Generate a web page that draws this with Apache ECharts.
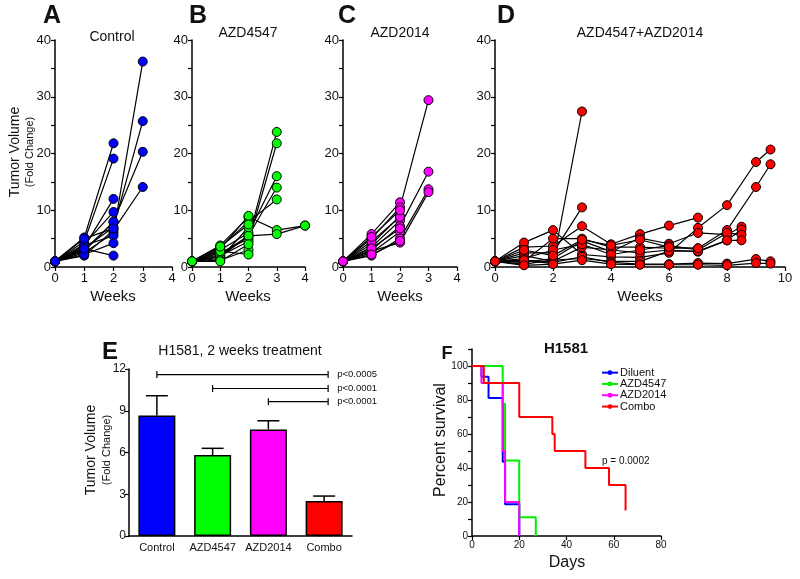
<!DOCTYPE html>
<html><head><meta charset="utf-8">
<script src="https://cdn.jsdelivr.net/npm/echarts@6/dist/echarts.min.js"></script>
<style>html,body{margin:0;padding:0;background:#fff}#c{width:800px;height:579px}</style>
</head><body><div id="c"></div>
<script>
// ---------- data ----------
const weeksABC = [0, 1, 2, 3, 4];
const weeksD = [0, 1, 2, 3, 4, 5, 6, 7, 8, 8.5, 9, 9.5];

const controlMice = [
  [1, 5.2, 21.8], [1, 4.5, 19.1], [1, 3.5, 12.0], [1, 4.0, 9.7], [1, 3.0, 7.9],
  [1, 2.5, 6.0, 36.2], [1, 3.3, 7.0, 25.7], [1, 2.8, 8.0, 20.3], [1, 2.0, 6.5, 14.1],
  [1, 3.8, 5.5], [1, 2.2, 4.2], [1, 3.2, 2.0], [1, 5.0, 6.8]
];
const azd4547Mice = [
  [1, 2.5, 5.0, 23.8], [1, 2.0, 4.5, 21.8], [1, 3.0, 6.0, 16.0], [1, 1.8, 5.5, 14.0],
  [1, 3.5, 8.0, 11.9], [1, 3.8, 8.8, 6.5, 7.3], [1, 2.2, 5.5, 5.8, 7.3], [1, 3.2, 9.0],
  [1, 1.5, 7.0], [1, 1.2, 3.0], [1, 2.8, 2.2], [1, 1.0, 4.0], [1, 3.6, 7.5]
];
const azd2014Mice = [
  [1, 5.8, 11.4], [1, 5.0, 10.5, 29.4], [1, 4.0, 9.0], [1, 3.5, 8.2], [1, 3.0, 7.2, 16.8],
  [1, 2.5, 6.2], [1, 2.0, 5.0, 13.7], [1, 2.8, 4.3, 13.2], [1, 4.5, 8.8], [1, 3.3, 6.8],
  [1, 2.2, 4.6], [1, 5.3, 10.0]
];
const comboMice = [
  [1, 1.2, 0.6, 27.4],
  [1, 2.5, 2.5, 10.5],
  [1, 3.5, 3.7, 7.2, 4.0, 5.8, 7.3, 8.7],
  [1, 4.3, 6.5, 2.2, 1.8, 1.7, 2.5, 6.9, 10.9, null, 18.5, 20.7],
  [1, 1.0, 5.0, 5.0, 3.5, 3.5, 3.3, 3.3, 6.5, null, 14.1, 18.1],
  [1, 0.8, 1.5, 4.6, 2.7, 5.1, 4.1, 6.0, 5.7, 7.1],
  [1, 2.0, 1.0, 3.5, 3.0, 2.5, 3.0, 2.7, 4.7, 6.6],
  [1, 1.5, 3.0, 4.0, 2.2, 3.0, 3.8, 3.0, 6.0, 5.7],
  [1, 0.5, 1.2, 1.5, 1.0, 1.0, 2.8, 2.8, 4.7, 4.7],
  [1, 1.2, 0.8, 1.8, 0.8, 0.5, 0.5, 0.7, 0.6, null, 1.4, 1.0],
  [1, 0.3, 0.5, 1.2, 0.5, 0.4, 0.4, 0.4, 0.3, null, 0.7, 0.6],
  [1, 3.0, 2.0, 4.8, 3.8, 4.8, 3.5, 3.3]
];

const barCategories = ['Control', 'AZD4547', 'AZD2014', 'Combo'];
const barMeans = [8.65, 5.82, 7.66, 2.51];
const barSems = [1.43, 0.48, 0.62, 0.36];
const barColors = ['#0000ff', '#00ff00', '#ff00ff', '#ff0000'];
const bracketFrom = [0, 1, 2];
const bracketTo = [3, 3, 3];
const bracketY = [11.6, 10.6, 9.65];
const bracketLabels = ['p<0.0005', 'p<0.0001', 'p<0.0001'];

const survNames = ['Diluent', 'AZD4547', 'AZD2014', 'Combo'];
const survColors = ['#0000ff', '#00ee00', '#ff00ff', '#ff0000'];
const diluentDays = [0, 4, 7, 13, 14, 20];
const diluentPct = [100, 93.75, 81.25, 43.75, 18.75, 0];
const azd4547Days = [0, 13, 14, 20, 27];
const azd4547Pct = [100, 77.8, 44.4, 11.1, 0];
const azd2014Days = [0, 4, 13, 14, 20];
const azd2014Pct = [100, 90, 50, 20, 0];
const comboDays = [0, 5, 20, 34, 35, 48, 58, 65];
const comboPct = [100, 90, 70, 60, 50, 40, 30, 15];

// ---------- chart ----------
const FONT = '"Liberation Sans", Arial, sans-serif';
const chart = echarts.init(document.getElementById('c'), null, {renderer: 'canvas'});

const axisLineStyle = {lineStyle: {color: '#000', width: 1.5}};
const topGrids = [
  {left: 55, top: 40, width: 117, height: 227},
  {left: 192, top: 40, width: 113, height: 227},
  {left: 343, top: 40, width: 114, height: 227},
  {left: 495, top: 40, width: 290, height: 227}
];
const grids = topGrids.concat([
  {left: 129, top: 369, width: 223, height: 167},
  {left: 472, top: 349, width: 189, height: 187}
]);

const xAxes = [], yAxes = [];
topGrids.forEach((g, i) => {
  xAxes.push({
    type: 'value', gridIndex: i, min: 0, max: i === 3 ? 10 : 4, interval: i === 3 ? 2 : 1,
    axisLine: axisLineStyle, axisTick: {length: 4, lineStyle: {color: '#000', width: 1.2}},
    splitLine: {show: false},
    axisLabel: {color: '#111', fontSize: 13, fontFamily: FONT, margin: 5}
  });
  yAxes.push({
    type: 'value', gridIndex: i, min: 0, max: 40, interval: 5,
    axisLine: {show: true, lineStyle: {color: '#000', width: 1.5}},
    axisTick: {show: true, length: 4, lineStyle: {color: '#000', width: 1.2}},
    splitLine: {show: false},
    axisLabel: {color: '#111', fontSize: 13, fontFamily: FONT, margin: 4,
      formatter: v => (v % 10 === 0 ? String(v) : '')}
  });
});
xAxes.push({
  type: 'category', gridIndex: 4, data: barCategories,
  axisLine: axisLineStyle, axisTick: {show: false},
  axisLabel: {color: '#111', fontSize: 11, fontFamily: FONT, margin: 6, interval: 0}
});
yAxes.push({
  type: 'value', gridIndex: 4, min: 0, max: 12, interval: 3,
  axisLine: {show: true, lineStyle: {color: '#000', width: 1.5}},
  axisTick: {show: true, length: 4, lineStyle: {color: '#000', width: 1.2}},
  splitLine: {show: false},
  axisLabel: {color: '#111', fontSize: 12, fontFamily: FONT, margin: 3}
});
xAxes.push({
  type: 'value', gridIndex: 5, min: 0, max: 80, interval: 20,
  axisLine: axisLineStyle, axisTick: {length: 4, lineStyle: {color: '#000', width: 1.2}},
  splitLine: {show: false},
  axisLabel: {color: '#111', fontSize: 10, fontFamily: FONT, margin: 4}
});
yAxes.push({
  type: 'value', gridIndex: 5, min: 0, max: 110, interval: 10,
  axisLine: {show: true, lineStyle: {color: '#000', width: 1.5}},
  axisTick: {show: true, length: 4, lineStyle: {color: '#000', width: 1.2}},
  splitLine: {show: false},
  axisLabel: {color: '#111', fontSize: 10, fontFamily: FONT, margin: 4,
    formatter: v => (v % 20 === 0 && v <= 100 ? String(v) : '')}
});

const series = [];
function addMice(list, xs, idx, color) {
  const pts = [];
  list.forEach(m => {
    const d = [];
    m.forEach((v, k) => { if (v !== null) d.push([xs[k], v]); });
    d.forEach(p => pts.push(p));
    series.push({type: 'line', xAxisIndex: idx, yAxisIndex: idx, data: d, showSymbol: false,
      symbol: 'none', lineStyle: {color: '#000', width: 1.2}, z: 2, silent: true});
  });
  series.push({type: 'scatter', xAxisIndex: idx, yAxisIndex: idx, data: pts, symbol: 'circle',
    symbolSize: 9, itemStyle: {color: color, borderColor: '#000', borderWidth: 1, opacity: 1}, z: 3});
}
addMice(controlMice, weeksABC, 0, '#0000ff');
addMice(azd4547Mice, weeksABC, 1, '#00ff00');
addMice(azd2014Mice, weeksABC, 2, '#ff00ff');
addMice(comboMice, weeksD, 3, '#ff0000');

// panel E
series.push({
  type: 'bar', xAxisIndex: 4, yAxisIndex: 4, barWidth: 37,
  data: barMeans.map((v, i) => ({value: v, itemStyle: {color: barColors[i], borderColor: '#000', borderWidth: 1.5}})),
  z: 2
});
series.push({
  type: 'custom', xAxisIndex: 4, yAxisIndex: 4, z: 1,
  data: barMeans.map((v, i) => [i, v, barSems[i]]),
  renderItem: (params, api) => {
    const i = api.value(0), m = api.value(1), s = api.value(2);
    const top = api.coord([i, m + s]), base = api.coord([i, m]);
    const st = {stroke: '#000', lineWidth: 1.5};
    return {type: 'group', children: [
      {type: 'line', shape: {x1: base[0], y1: base[1], x2: top[0], y2: top[1]}, style: st},
      {type: 'line', shape: {x1: top[0] - 11, y1: top[1], x2: top[0] + 11, y2: top[1]}, style: st}
    ]};
  }
});
series.push({
  type: 'custom', xAxisIndex: 4, yAxisIndex: 4, z: 3,
  data: bracketFrom.map((f, i) => [f, bracketTo[i], bracketY[i], i]),
  renderItem: (params, api) => {
    const a = api.coord([api.value(0), api.value(2)]);
    const b = api.coord([api.value(1), api.value(2)]);
    const bx = b[0] + 4;
    const st = {stroke: '#000', lineWidth: 1.2};
    return {type: 'group', children: [
      {type: 'line', shape: {x1: a[0], y1: a[1], x2: bx, y2: b[1]}, style: st},
      {type: 'line', shape: {x1: a[0], y1: a[1] - 3.5, x2: a[0], y2: a[1] + 3.5}, style: st},
      {type: 'line', shape: {x1: bx, y1: b[1] - 3.5, x2: bx, y2: b[1] + 3.5}, style: st},
      {type: 'text', style: {x: bx + 9, y: b[1], text: bracketLabels[api.value(3)],
        font: '9.5px ' + FONT, fill: '#111', textAlign: 'left', textVerticalAlign: 'middle'}}
    ]};
  }
});

// panel F
const survDays = [diluentDays, azd4547Days, azd2014Days, comboDays];
const survPct = [diluentPct, azd4547Pct, azd2014Pct, comboPct];
survNames.forEach((n, i) => {
  series.push({
    type: 'line', name: n, xAxisIndex: 5, yAxisIndex: 5, step: 'end', symbol: 'none',
    data: survDays[i].map((d, k) => [d, survPct[i][k]]),
    lineStyle: {color: survColors[i], width: 2}, itemStyle: {color: survColors[i]},
    z: 2 + (i === 3 ? 1 : 0)
  });
});

function txt(x, y, text, font, opts) {
  return Object.assign({type: 'text', x: x, y: y, style: {text: text, font: font, fill: '#111',
    textAlign: 'center', textVerticalAlign: 'middle'}}, opts || {});
}
const R90 = Math.PI / 2;
const graphics = [
  txt(52, 16, 'A', 'bold 25px ' + FONT), txt(198, 16, 'B', 'bold 25px ' + FONT),
  txt(347, 16, 'C', 'bold 25px ' + FONT), txt(506, 16, 'D', 'bold 25px ' + FONT),
  txt(112, 37, 'Control', '14px ' + FONT), txt(248, 33, 'AZD4547', '14px ' + FONT),
  txt(400, 33, 'AZD2014', '14px ' + FONT), txt(640, 33, 'AZD4547+AZD2014', '14px ' + FONT),
  txt(15, 152, 'Tumor Volume', '14px ' + FONT, {rotation: R90}),
  txt(29.5, 152, '(Fold Change)', '11px ' + FONT, {rotation: R90}),
  txt(113, 297, 'Weeks', '15px ' + FONT), txt(248, 297, 'Weeks', '15px ' + FONT),
  txt(400, 297, 'Weeks', '15px ' + FONT), txt(640, 297, 'Weeks', '15px ' + FONT),
  txt(110, 352, 'E', 'bold 24px ' + FONT), txt(240, 351, 'H1581, 2 weeks treatment', '14px ' + FONT),
  txt(91, 450, 'Tumor Volume', '14px ' + FONT, {rotation: R90}),
  txt(107, 450, '(Fold Change)', '11px ' + FONT, {rotation: R90}),
  txt(447, 354, 'F', 'bold 18px ' + FONT), txt(566, 348.5, 'H1581', 'bold 15px ' + FONT),
  txt(441, 440, 'Percent survival', '16px ' + FONT, {rotation: R90}),
  txt(567, 563, 'Days', '16px ' + FONT),
  txt(602, 461, 'p = 0.0002', '10px ' + FONT, {style: {text: 'p = 0.0002', font: '10px ' + FONT,
    fill: '#111', textAlign: 'left', textVerticalAlign: 'middle'}})
];

chart.setOption({
  animation: false,
  backgroundColor: '#fff',
  grid: grids,
  xAxis: xAxes,
  yAxis: yAxes,
  legend: {
    data: survNames, orient: 'vertical', left: 601, top: 367, padding: 0,
    itemWidth: 16, itemHeight: 6, itemGap: 0,
    textStyle: {fontSize: 11, fontFamily: FONT, color: '#111', lineHeight: 11.3, padding: [0, 0, 0, -3]}
  },
  graphic: graphics,
  series: series
});
</script></body></html>
